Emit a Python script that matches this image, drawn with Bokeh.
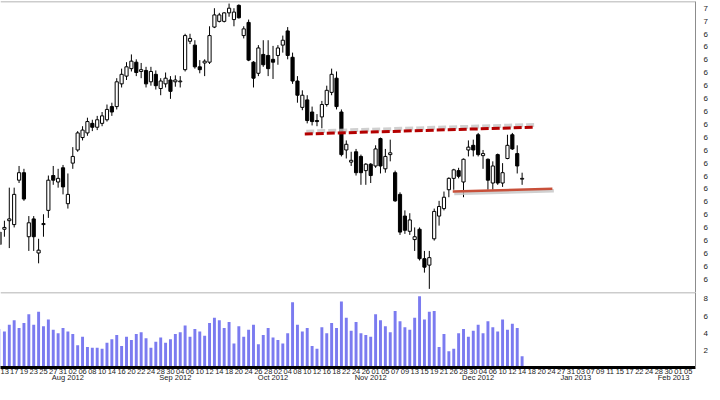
import pandas as pd
from bokeh.plotting import figure
from bokeh.layouts import column
from bokeh.models import Range1d, LinearAxis, FixedTicker, Span, Label, ColumnDataSource
from bokeh.embed import file_html
from bokeh.resources import INLINE

# ---------------- data ----------------
holidays = ["2012-09-03", "2012-10-29", "2012-10-30", "2012-11-22",
            "2012-12-25", "2013-01-01", "2013-01-21"]
first_day = "2012-07-12"
last_axis_day = "2013-02-05"

opens = [61.35, 61.94, 62.27, 62.12, 63.84, 64.13, 61.65, 62.34, 61.02, 62.12, 62.67, 64.02, 63.77, 64.32, 62.93,
         64.50, 65.01, 65.49, 65.67, 66.04, 65.89, 66.04, 66.18, 66.69, 66.69, 67.57, 67.87, 68.16, 68.41, 68.05,
         68.09, 67.65, 67.94, 67.39, 67.57, 67.72, 67.65, 67.65, 68.12, 69.22, 69.07, 68.23, 68.38, 68.41, 69.77,
         69.99, 69.99, 70.32, 70.06, 70.61, 69.44, 69.95, 68.41, 67.98, 68.71, 68.67, 68.52, 68.67, 69.07, 69.62,
         68.60, 67.68, 66.66, 66.95, 66.48, 66.15, 66.29, 66.77, 67.24, 67.79, 66.48, 65.01, 64.54, 64.94, 64.76,
         64.21, 64.46, 64.39, 65.45, 64.28, 64.83, 64.13, 63.29, 62.45, 61.86, 61.54, 61.94, 60.80, 60.55, 61.57,
         62.45, 62.74, 63.47, 63.91, 64.21, 63.77, 65.01, 65.19, 65.60, 64.79, 64.65, 63.73, 64.83, 63.73, 64.68,
         65.60, 64.87, 63.88]
highs = [62.08, 62.27, 63.55, 63.55, 64.39, 64.28, 62.45, 62.45, 61.57, 62.52, 64.02, 64.39, 64.28, 64.43, 64.10,
         65.12, 65.74, 65.93, 66.26, 66.18, 66.33, 66.48, 66.77, 66.84, 67.79, 68.16, 68.41, 68.71, 68.52, 68.38,
         68.23, 68.23, 68.09, 67.79, 68.01, 67.87, 67.90, 67.87, 69.51, 69.51, 69.26, 68.49, 68.52, 69.80, 70.50,
         70.32, 70.35, 70.68, 70.50, 70.65, 69.80, 70.06, 68.45, 69.07, 69.26, 69.26, 69.04, 69.07, 69.44, 69.77,
         68.78, 67.87, 67.32, 67.13, 66.69, 66.40, 66.91, 67.50, 68.16, 68.05, 66.58, 65.38, 64.94, 65.05, 64.83,
         64.50, 64.50, 65.19, 65.49, 65.05, 65.41, 64.21, 63.37, 62.67, 62.56, 62.01, 62.01, 61.10, 61.10, 62.74,
         63.04, 63.40, 63.95, 64.28, 64.32, 64.68, 65.38, 65.41, 65.67, 65.01, 64.68, 64.57, 64.87, 64.50, 65.60,
         65.67, 65.19, 64.13]
lows = [61.17, 61.65, 61.21, 62.01, 63.73, 63.04, 61.10, 61.10, 60.62, 61.65, 62.38, 63.66, 63.55, 63.29, 62.74,
        64.28, 64.94, 65.38, 65.56, 65.74, 65.78, 65.93, 66.11, 66.33, 66.58, 67.43, 67.72, 68.05, 67.87, 67.79,
        67.43, 67.50, 67.35, 67.13, 67.43, 66.99, 67.46, 67.43, 68.05, 69.11, 68.16, 67.98, 67.87, 68.34, 69.73,
        69.95, 69.95, 70.17, 69.80, 70.10, 69.33, 68.45, 67.43, 67.87, 68.23, 67.87, 67.76, 68.31, 68.78, 68.52,
        67.57, 66.84, 66.55, 66.04, 65.96, 65.93, 65.85, 66.69, 67.13, 66.58, 64.76, 64.68, 64.39, 64.02, 63.66,
        63.66, 63.73, 64.32, 64.10, 64.13, 64.57, 63.00, 61.72, 61.76, 61.72, 61.10, 60.73, 60.26, 59.63, 61.50,
        62.08, 62.67, 63.18, 63.47, 63.91, 63.18, 64.76, 64.76, 64.76, 64.28, 63.47, 63.47, 63.66, 63.58, 64.65,
        65.01, 64.10, 63.66]
closes = [61.83, 62.01, 62.34, 63.29, 64.13, 63.11, 62.19, 61.65, 61.13, 62.16, 63.84, 63.84, 63.91, 63.58, 63.29,
          64.76, 65.67, 65.78, 66.11, 65.89, 66.18, 66.33, 66.58, 66.48, 67.65, 67.94, 68.23, 68.45, 68.01, 68.12,
          67.57, 68.05, 67.50, 67.68, 67.79, 67.28, 67.72, 67.68, 69.44, 69.33, 68.23, 68.12, 68.45, 69.44, 70.24,
          70.24, 70.32, 70.50, 70.35, 70.13, 69.70, 68.49, 67.79, 68.96, 68.31, 68.16, 68.41, 68.96, 69.26, 68.67,
          67.68, 67.13, 67.13, 66.15, 66.11, 66.11, 66.77, 67.32, 67.94, 66.69, 64.83, 65.23, 64.61, 64.13, 64.13,
          64.46, 64.02, 65.05, 64.39, 64.76, 64.90, 63.04, 61.83, 61.90, 62.30, 61.65, 60.80, 60.47, 60.84, 62.63,
          62.82, 63.18, 63.91, 64.24, 63.99, 64.65, 65.12, 65.01, 64.83, 64.87, 63.84, 64.39, 63.73, 64.13, 65.19,
          65.05, 64.39, 63.91]
volumes = [4.5, 4.2, 5.0, 5.5, 4.6, 5.2, 6.2, 5.0, 6.5, 4.8, 5.6, 4.4, 4.0, 4.6, 4.2,
           3.9, 2.6, 3.6, 2.4, 2.3, 2.3, 2.2, 2.9, 3.3, 3.8, 2.5, 3.6, 3.2, 3.9, 4.1,
           3.4, 2.3, 3.0, 3.5, 2.9, 3.3, 3.9, 4.1, 4.9, 3.6, 4.5, 4.2, 3.7, 5.2, 5.8,
           5.5, 4.6, 5.3, 2.8, 4.8, 3.6, 4.4, 5.0, 2.7, 3.8, 4.6, 3.5, 3.2, 2.8, 4.0,
           7.6, 5.0, 4.2, 4.6, 2.5, 2.2, 4.7, 4.0, 5.2, 4.6, 7.7, 5.8, 4.3, 5.3, 4.0,
           3.8, 3.6, 6.2, 5.5, 4.8, 4.1, 6.6, 5.4, 4.7, 4.4, 5.8, 8.3, 5.6, 6.5, 6.6,
           2.4, 3.9, 1.9, 2.2, 4.0, 4.5, 3.6, 4.3, 5.0, 4.0, 5.4, 4.7, 4.2, 5.6, 4.4,
           5.1, 4.6, 1.3]

price_ticks = [60.0, 60.5, 61.0, 61.5, 62.0, 62.5, 63.0, 63.5, 64.0, 64.5, 65.0,
               65.5, 66.0, 66.5, 67.0, 67.5, 68.0, 68.5, 69.0, 69.5, 70.0, 70.5]
volume_ticks = [2, 4, 6, 8]

# trend lines (trading-day index, price)
resist_x = [62.5, 109.3]
resist_y = [65.63, 65.89]
support_x = [92.8, 113.2]
support_y = [63.40, 63.51]

# ---------------- derived ----------------
days = [d for d in pd.bdate_range(first_day, last_axis_day) if d.strftime("%Y-%m-%d") not in holidays]
n = len(opens)
idx = list(range(n))

up = [i for i in idx if closes[i] >= opens[i]]
dn = [i for i in idx if closes[i] < opens[i]]

def body_src(sel):
    return ColumnDataSource(dict(
        x=[i for i in sel],
        top=[max(opens[i], closes[i]) for i in sel],
        bottom=[min(opens[i], closes[i]) for i in sel]))

wick_src = ColumnDataSource(dict(x=idx, hi=highs, lo=lows))
vol_src = ColumnDataSource(dict(x=idx, v=volumes))

day_ticks = list(range(1, len(days), 2))
day_labels = {t: days[t].strftime("%d") for t in day_ticks}
month_ticks, month_labels = [], {}
prev = None
for t in day_ticks:
    m = days[t].strftime("%b %Y")
    if m != prev:
        month_ticks.append(t - 1)
        month_labels[t - 1] = m
        prev = m

def first_char(v):
    return f"{v:.1f}"[0]

FONT = "Liberation Sans"
W = 710
xr = Range1d(0.2, 142.5)

# ---------------- price panel ----------------
p = figure(width=W, height=292, x_range=xr, y_range=Range1d(59.49, 70.76),
           x_axis_location=None, y_axis_location="right", toolbar_location=None,
           output_backend="svg", min_border_left=0, min_border_top=1, min_border_bottom=0,
           min_border_right=14, outline_line_color=None, background_fill_color="white")
p.xgrid.visible = False
p.ygrid.visible = False
ya = p.yaxis[0]
ya.ticker = FixedTicker(ticks=price_ticks)
ya.major_label_overrides = {t: first_char(t) for t in price_ticks}
ya.major_label_text_font = FONT
ya.major_label_text_font_size = "8px"
ya.major_label_text_color = "#222222"
ya.major_label_standoff = 2
ya.major_tick_line_color = None
ya.minor_tick_line_color = None
ya.axis_line_color = "#8c8c8c"

p.add_layout(Span(location=70.76, dimension="width", line_color="#9a9a9a", line_width=1.5))

p.segment(x0="x", y0="lo", x1="x", y1="hi", source=wick_src, line_color="black", line_width=1)
p.vbar(x="x", top="top", bottom="bottom", width=0.65, source=body_src(up),
       fill_color="white", line_color="black", line_width=1)
p.vbar(x="x", top="top", bottom="bottom", width=0.65, source=body_src(dn),
       fill_color="black", line_color="black", line_width=1)

# trend lines with soft shadows
p.line([x + 0.3 for x in resist_x], [y + 0.09 for y in resist_y], line_color="#c4c4c4",
       line_width=4, line_dash="8 3", line_alpha=0.8)
p.line(resist_x, resist_y, line_color="#b40000", line_width=3, line_dash="8 3")
p.line([x + 0.3 for x in support_x], [y - 0.08 for y in support_y], line_color="#c4c4c4",
       line_width=3.5, line_alpha=0.8)
p.line(support_x, support_y, line_color="#c8503a", line_width=2.5)

p.add_layout(Label(x=xr.end, y=closes[-1], text=first_char(closes[-1]), x_offset=1,
                   text_baseline="middle", text_font=FONT, text_font_size="8px",
                   text_color="white", background_fill_color="black"))

# ---------------- volume panel ----------------
v = figure(width=W, height=92, x_range=xr, y_range=Range1d(0, 8.75),
           y_axis_location="right", toolbar_location=None, output_backend="svg",
           min_border_left=0, min_border_top=0, min_border_bottom=0, min_border_right=14,
           outline_line_color=None, background_fill_color="white")
v.xgrid.visible = False
v.ygrid.visible = False
va = v.yaxis[0]
va.ticker = FixedTicker(ticks=volume_ticks)
va.major_label_overrides = {t: str(t) for t in volume_ticks}
va.major_label_text_font = FONT
va.major_label_text_font_size = "8px"
va.major_label_text_color = "#222222"
va.major_label_standoff = 2
va.major_tick_line_color = None
va.minor_tick_line_color = None
va.axis_line_color = "#8c8c8c"

xa = v.xaxis[0]
xa.ticker = FixedTicker(ticks=day_ticks)
xa.major_label_overrides = day_labels
xa.major_label_text_font = FONT
xa.major_label_text_font_size = "7.5px"
xa.major_label_text_color = "#222222"
xa.major_label_standoff = 1
xa.major_tick_in = 0
xa.major_tick_out = 0
xa.major_tick_line_color = None
xa.minor_tick_line_color = None
xa.axis_line_color = "black"
xa.axis_line_width = 3

ma = LinearAxis(ticker=FixedTicker(ticks=month_ticks), major_label_overrides=month_labels)
ma.major_label_text_font = FONT
ma.major_label_text_font_size = "7.5px"
ma.major_label_text_color = "#222222"
ma.major_label_text_align = "left"
ma.major_label_standoff = -4
ma.major_tick_in = 0
ma.major_tick_out = 0
ma.major_tick_line_color = None
ma.minor_tick_line_color = None
ma.axis_line_color = None
v.add_layout(ma, "below")

v.add_layout(Span(location=8.75, dimension="width", line_color="#9a9a9a", line_width=1.5))
v.vbar(x="x", top="v", bottom=0, width=0.6, source=vol_src, fill_color="#7b7bf0", line_color=None)
v.add_layout(Label(x=xr.end, y=volumes[-1], text=str(int(volumes[-1])), x_offset=1,
                   text_baseline="middle", text_font=FONT, text_font_size="8px",
                   text_color="white", background_fill_color="#6a6ae8"))

layout = column(p, v, spacing=0)
open("out.html", "w").write(file_html(layout, INLINE))
